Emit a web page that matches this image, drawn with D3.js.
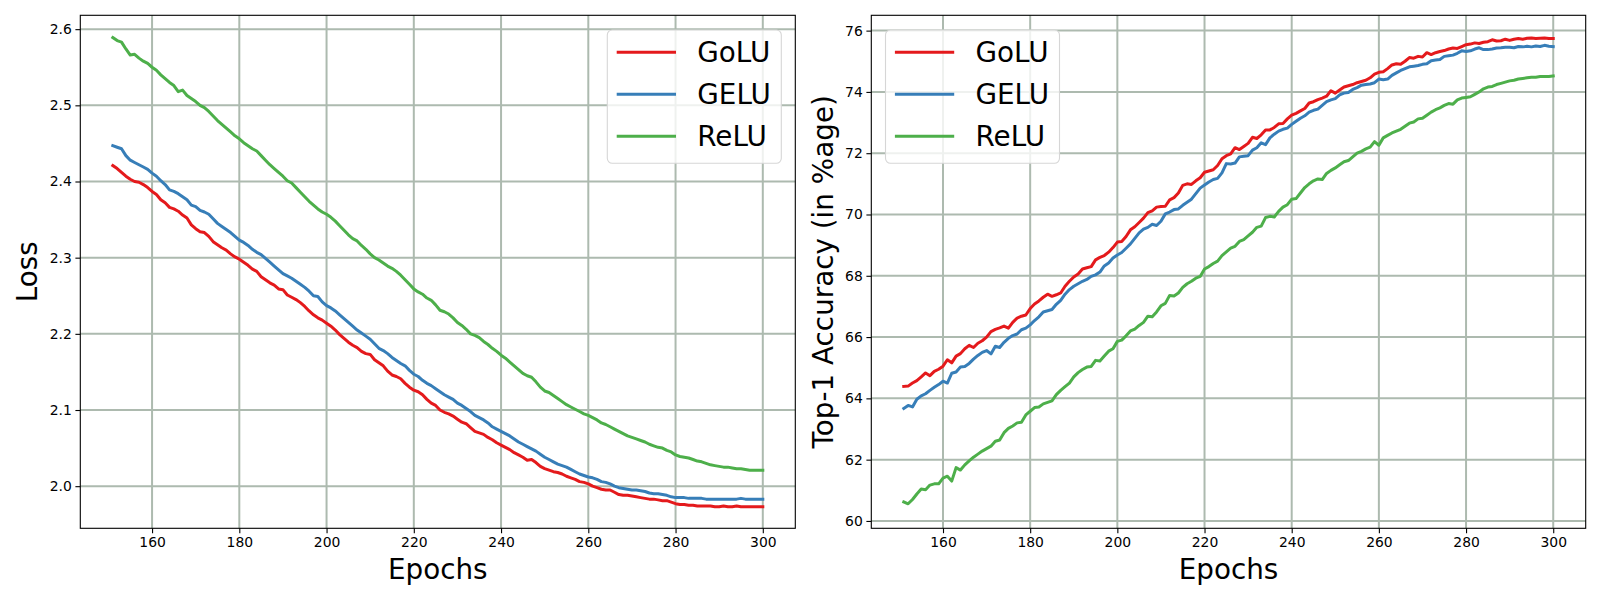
<!DOCTYPE html>
<html>
<head>
<meta charset="utf-8">
<script src="https://cdn.jsdelivr.net/npm/d3@7"></script>
<style>
  body { margin: 0; background: #fff; }
  svg { display: block; font-family: "DejaVu Sans", sans-serif; }
</style>
</head>
<body>
<svg id="chart" width="1600" height="600"></svg>
<script>
// ---------------- DATA ----------------
const epochStart = 151;
const seriesNames = ["GoLU", "GELU", "ReLU"];
const seriesColors = ["#e41a1c", "#377eb8", "#4daf4a"];

const lossGoLU = [
  2.421,2.417,2.412,2.407,2.403,2.400,2.399,2.396,2.392,2.387,
  2.383,2.376,2.372,2.366,2.364,2.361,2.356,2.352,2.343,2.338,
  2.334,2.333,2.328,2.321,2.317,2.313,2.310,2.305,2.301,2.298,
  2.294,2.290,2.285,2.282,2.275,2.271,2.267,2.264,2.259,2.258,
  2.251,2.248,2.245,2.241,2.236,2.230,2.225,2.221,2.218,2.214,
  2.210,2.205,2.199,2.194,2.189,2.185,2.182,2.177,2.174,2.173,
  2.166,2.162,2.158,2.151,2.146,2.144,2.141,2.135,2.130,2.126,
  2.124,2.120,2.114,2.109,2.106,2.100,2.097,2.095,2.092,2.088,
  2.084,2.082,2.077,2.072,2.070,2.068,2.064,2.061,2.057,2.054,
  2.051,2.048,2.044,2.041,2.038,2.034,2.035,2.031,2.026,2.023,
  2.021,2.019,2.018,2.016,2.013,2.011,2.009,2.006,2.005,2.003,
  2.000,1.998,1.996,1.995,1.995,1.992,1.989,1.988,1.988,1.987,
  1.986,1.985,1.984,1.983,1.983,1.982,1.981,1.981,1.979,1.977,
  1.976,1.976,1.975,1.975,1.974,1.974,1.974,1.974,1.973,1.973,
  1.974,1.973,1.973,1.974,1.973,1.973,1.973,1.973,1.973,1.973
];
const lossGELU = [
  2.447,2.445,2.443,2.434,2.428,2.425,2.422,2.419,2.416,2.411,
  2.407,2.401,2.396,2.389,2.387,2.384,2.380,2.376,2.369,2.367,
  2.362,2.360,2.357,2.351,2.345,2.341,2.337,2.333,2.328,2.323,
  2.320,2.316,2.311,2.307,2.304,2.299,2.294,2.289,2.284,2.279,
  2.276,2.273,2.269,2.265,2.261,2.256,2.250,2.249,2.242,2.237,
  2.234,2.230,2.225,2.220,2.215,2.210,2.205,2.201,2.197,2.193,
  2.187,2.181,2.178,2.174,2.169,2.165,2.161,2.158,2.152,2.147,
  2.144,2.139,2.135,2.132,2.128,2.124,2.120,2.117,2.114,2.109,
  2.106,2.102,2.098,2.093,2.090,2.087,2.083,2.078,2.075,2.072,
  2.069,2.066,2.062,2.058,2.055,2.052,2.049,2.046,2.042,2.038,
  2.035,2.032,2.029,2.027,2.025,2.022,2.019,2.016,2.014,2.012,
  2.011,2.009,2.006,2.005,2.003,2.000,1.998,1.997,1.996,1.995,
  1.995,1.994,1.993,1.991,1.990,1.990,1.989,1.988,1.986,1.985,
  1.985,1.985,1.984,1.984,1.984,1.984,1.983,1.983,1.983,1.983,
  1.983,1.983,1.983,1.983,1.984,1.983,1.983,1.983,1.983,1.983
];
const lossReLU = [
  2.589,2.585,2.583,2.574,2.566,2.567,2.562,2.558,2.555,2.550,
  2.546,2.540,2.535,2.530,2.526,2.518,2.520,2.513,2.509,2.505,
  2.500,2.497,2.492,2.486,2.480,2.475,2.470,2.465,2.460,2.456,
  2.451,2.447,2.443,2.440,2.434,2.428,2.422,2.417,2.412,2.407,
  2.401,2.398,2.392,2.386,2.380,2.374,2.369,2.364,2.360,2.357,
  2.353,2.348,2.342,2.336,2.330,2.325,2.322,2.316,2.311,2.305,
  2.300,2.297,2.293,2.289,2.286,2.282,2.277,2.271,2.265,2.259,
  2.255,2.252,2.247,2.244,2.238,2.231,2.229,2.226,2.221,2.215,
  2.211,2.206,2.200,2.198,2.195,2.190,2.186,2.181,2.177,2.172,
  2.168,2.163,2.158,2.153,2.148,2.145,2.143,2.137,2.130,2.125,
  2.123,2.119,2.115,2.111,2.107,2.104,2.101,2.098,2.095,2.093,
  2.090,2.087,2.083,2.081,2.078,2.075,2.072,2.069,2.066,2.064,
  2.062,2.060,2.058,2.055,2.053,2.051,2.050,2.047,2.045,2.041,
  2.039,2.038,2.037,2.035,2.033,2.032,2.030,2.028,2.027,2.026,
  2.025,2.025,2.024,2.023,2.023,2.022,2.021,2.021,2.021,2.021
];

const accGoLU = [
  64.39,64.40,64.50,64.58,64.70,64.83,64.74,64.88,64.95,65.05,
  65.26,65.16,65.38,65.46,65.62,65.73,65.66,65.80,65.88,66.00,
  66.18,66.25,66.30,66.36,66.29,66.48,66.62,66.68,66.72,66.93,
  67.08,67.18,67.30,67.40,67.33,67.38,67.44,67.66,67.82,67.96,
  68.06,68.22,68.26,68.30,68.52,68.60,68.66,68.77,68.92,69.10,
  69.12,69.28,69.50,69.60,69.74,69.88,70.06,70.12,70.24,70.26,
  70.27,70.48,70.55,70.70,70.95,71.00,70.98,71.10,71.20,71.38,
  71.42,71.46,71.60,71.82,71.92,71.98,72.18,72.12,72.22,72.32,
  72.52,72.48,72.60,72.76,72.76,72.84,72.96,72.97,73.12,73.24,
  73.30,73.38,73.46,73.64,73.68,73.75,73.80,73.86,74.04,73.96,
  74.06,74.16,74.20,74.24,74.30,74.34,74.38,74.46,74.58,74.64,
  74.66,74.76,74.88,74.92,74.90,75.00,75.12,75.10,75.16,75.14,
  75.28,75.22,75.28,75.32,75.35,75.40,75.43,75.42,75.48,75.54,
  75.56,75.60,75.58,75.62,75.64,75.70,75.66,75.67,75.72,75.68,
  75.72,75.74,75.72,75.75,75.76,75.74,75.75,75.76,75.74,75.74
];
const accGELU = [
  63.67,63.77,63.72,63.97,64.08,64.15,64.26,64.36,64.45,64.56,
  64.50,64.82,64.86,65.02,65.04,65.14,65.28,65.40,65.50,65.56,
  65.45,65.70,65.66,65.83,65.96,66.05,66.10,66.24,66.29,66.40,
  66.54,66.66,66.82,66.86,66.90,67.07,67.20,67.40,67.55,67.66,
  67.74,67.82,67.88,67.98,68.03,68.12,68.32,68.42,68.58,68.68,
  68.76,68.90,69.04,69.22,69.40,69.52,69.58,69.68,69.64,69.78,
  70.02,70.08,70.16,70.18,70.30,70.40,70.50,70.68,70.86,70.96,
  71.06,71.14,71.18,71.36,71.66,71.65,71.68,71.88,71.90,71.92,
  72.10,72.18,72.34,72.28,72.50,72.62,72.72,72.78,72.82,72.94,
  73.04,73.14,73.22,73.34,73.40,73.44,73.56,73.68,73.74,73.78,
  73.90,73.96,73.98,74.08,74.14,74.22,74.24,74.26,74.30,74.42,
  74.40,74.42,74.54,74.62,74.70,74.76,74.82,74.84,74.86,74.90,
  74.92,75.02,75.04,75.06,75.16,75.18,75.20,75.26,75.34,75.32,
  75.34,75.40,75.44,75.38,75.38,75.40,75.43,75.44,75.46,75.46,
  75.44,75.48,75.47,75.49,75.47,75.50,75.48,75.52,75.49,75.48
];
const accReLU = [
  60.62,60.56,60.70,60.88,61.04,61.02,61.17,61.21,61.21,61.40,
  61.46,61.30,61.74,61.66,61.83,61.96,62.08,62.18,62.28,62.36,
  62.44,62.60,62.64,62.88,63.02,63.10,63.20,63.22,63.46,63.58,
  63.70,63.72,63.82,63.87,63.92,64.12,64.26,64.38,64.50,64.70,
  64.84,64.94,65.02,65.04,65.24,65.22,65.38,65.54,65.62,65.86,
  65.90,66.04,66.20,66.26,66.38,66.48,66.68,66.66,66.82,67.02,
  67.10,67.36,67.34,67.44,67.62,67.74,67.82,67.92,67.98,68.22,
  68.30,68.40,68.48,68.66,68.78,68.90,68.96,69.12,69.18,69.30,
  69.42,69.58,69.62,69.90,69.94,69.92,70.10,70.24,70.32,70.50,
  70.52,70.70,70.88,71.00,71.10,71.16,71.14,71.34,71.44,71.52,
  71.62,71.72,71.76,71.88,72.00,72.06,72.14,72.20,72.38,72.26,
  72.50,72.58,72.66,72.72,72.78,72.88,72.98,73.02,73.12,73.14,
  73.24,73.34,73.42,73.48,73.56,73.62,73.60,73.74,73.80,73.82,
  73.84,73.92,74.00,74.10,74.16,74.18,74.24,74.28,74.32,74.36,
  74.38,74.42,74.44,74.46,74.48,74.48,74.50,74.50,74.50,74.52
];

const xTicks = [160, 180, 200, 220, 240, 260, 280, 300];
const lossTicks = [2.0, 2.1, 2.2, 2.3, 2.4, 2.5, 2.6];
const accTicks = [60, 62, 64, 66, 68, 70, 72, 74, 76];

// ---------------- DRAW ----------------
const svg = d3.select("#chart");
const GRID = "#adbaaf";
const TICKFS = 13.9, LABELFS = 27.8, LEGFS = 27.8;

function panel(opts) {
  const { left, right, top, bottom, xDomain, yDomain, yTicks, yFmt, series, ylabel, ylabelX, legendX } = opts;
  const x = d3.scaleLinear().domain(xDomain).range([left, right]);
  const y = d3.scaleLinear().domain(yDomain).range([bottom, top]);
  const g = svg.append("g");

  // grid
  g.append("g").selectAll("line").data(xTicks).join("line")
    .attr("x1", d => x(d)).attr("x2", d => x(d))
    .attr("y1", top).attr("y2", bottom)
    .attr("stroke", GRID).attr("stroke-width", 2);
  g.append("g").selectAll("line").data(yTicks).join("line")
    .attr("x1", left).attr("x2", right)
    .attr("y1", d => y(d)).attr("y2", d => y(d))
    .attr("stroke", GRID).attr("stroke-width", 2);

  // series
  const line = d3.line().x((d, i) => x(epochStart + i)).y(d => y(d));
  series.forEach((s, k) => {
    g.append("path").datum(s)
      .attr("d", line)
      .attr("fill", "none")
      .attr("stroke", seriesColors[k])
      .attr("stroke-width", 3)
      .attr("stroke-linejoin", "round")
      .attr("stroke-linecap", "square");
  });

  // axes
  const xAxis = d3.axisBottom(x).tickValues(xTicks).tickSize(4.9).tickPadding(3.6).tickFormat(d3.format("d"));
  const ax = g.append("g").attr("transform", `translate(0,${bottom})`).call(xAxis);
  const yAxis = d3.axisLeft(y).tickValues(yTicks).tickSize(4.9).tickPadding(3.6).tickFormat(yFmt);
  const ay = g.append("g").attr("transform", `translate(${left},0)`).call(yAxis);
  [ax, ay].forEach(a => {
    a.select(".domain").remove();
    a.selectAll("line").attr("stroke", "#000").attr("stroke-width", 1.1);
    a.selectAll("text").attr("font-size", TICKFS).attr("font-family", "DejaVu Sans").attr("fill", "#000");
  });

  // frame
  g.append("rect").attr("x", left).attr("y", top)
    .attr("width", right - left).attr("height", bottom - top)
    .attr("fill", "none").attr("stroke", "#000").attr("stroke-width", 1.1);

  // labels
  g.append("text").attr("x", (left + right) / 2).attr("y", 579.3)
    .attr("text-anchor", "middle").attr("font-size", LABELFS).text("Epochs");
  g.append("text")
    .attr("transform", `translate(${ylabelX},${(top + bottom) / 2}) rotate(-90)`)
    .attr("text-anchor", "middle").attr("font-size", LABELFS).text(ylabel);

  // legend
  const lg = g.append("g").attr("transform", `translate(${legendX},30)`);
  lg.append("rect").attr("x", 0).attr("y", 0).attr("width", 174).attr("height", 133.3)
    .attr("rx", 5).attr("ry", 5)
    .attr("fill", "#fff").attr("fill-opacity", 0.8)
    .attr("stroke", "#d6d6d6").attr("stroke-width", 1.1);
  seriesNames.forEach((name, k) => {
    const cy = 22.3 + k * 42;
    lg.append("line").attr("x1", 9.4).attr("x2", 68.7).attr("y1", cy).attr("y2", cy)
      .attr("stroke", seriesColors[k]).attr("stroke-width", 3);
    lg.append("text").attr("x", 90).attr("y", cy).attr("dy", "0.36em")
      .attr("font-size", LEGFS).text(name);
  });
}

panel({
  left: 80.3, right: 795.3, top: 15.3, bottom: 528.3,
  xDomain: [143.55, 307.45], yDomain: [1.9447, 2.6182],
  yTicks: lossTicks, yFmt: d3.format(".1f"),
  series: [lossGoLU, lossGELU, lossReLU],
  ylabel: "Loss", ylabelX: 36.8, legendX: 607.3
});
panel({
  left: 871.3, right: 1585.7, top: 15.3, bottom: 528.3,
  xDomain: [143.55, 307.45], yDomain: [59.76, 76.50],
  yTicks: accTicks, yFmt: d3.format("d"),
  series: [accGoLU, accGELU, accReLU],
  ylabel: "Top-1 Accuracy (in %age)", ylabelX: 833, legendX: 885.5
});
</script>
</body>
</html>
